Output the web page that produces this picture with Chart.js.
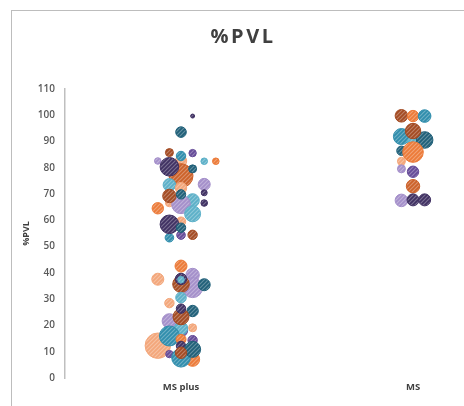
<!DOCTYPE html>
<html>
<head>
<meta charset="utf-8">
<title>%PVL</title>
<script src="https://cdn.jsdelivr.net/npm/chart.js@4"></script>
<style>
    html, body { margin: 0; background: #fff; overflow: hidden; width: 464px; height: 406px; }
    #frame { position: absolute; left: 11px; top: 10px; right: 0; bottom: 0; border-left: 1px solid #bdbdbd; border-top: 1px solid #bdbdbd; }
    #myChart { position: absolute; left: 0; top: 0; filter: blur(0.45px); }
</style>
</head>
<body>
<div id="frame"></div>
<canvas id="myChart" width="465" height="406"></canvas>
<script>
const tickLabels = { 1: 'MS plus', 2: 'MS' };

// x is the category number plus its sideways jitter, size is the bubble size
const xs = [
    1.05, 1.00, 0.95, 1.05, 0.90, 1.10, 1.15, 1.00, 1.00, 1.00,
    0.95, 1.05, 1.10, 1.10, 0.95, 1.00, 0.95, 1.05, 1.00, 0.95,
    1.00, 1.10, 0.90, 1.05, 1.00, 1.00, 1.05, 0.95, 0.95, 1.00,
    1.00, 0.90, 1.05, 1.05, 1.10, 1.00, 1.00, 1.00, 1.00, 0.95,
    1.05, 0.95, 1.00, 1.00, 1.00, 1.00, 1.05, 0.90, 0.95, 1.00,
    1.05, 0.95, 1.05, 1.00, 1.00, 1.05, 1.00,
    1.95, 2.00, 2.05, 1.95, 2.00, 2.05, 2.00, 1.95, 2.00, 1.95,
    1.95, 2.00, 2.00, 1.95, 2.00, 2.05
];
const ys = [
    99.7, 93.6, 85.8, 85.6, 82.6, 82.5, 82.5, 82.6, 84.5, 77.0,
    80.4, 79.6, 73.7, 70.5, 73.5, 72.3, 66.7, 67.6, 66.1, 69.3,
    69.9, 66.6, 64.6, 62.5, 59.5, 54.4, 54.5, 53.4, 58.5, 57.2,
    42.6, 37.6, 39.2, 34.4, 35.5, 35.7, 37.7, 37.4, 30.6, 28.5,
    25.5, 21.7, 18.2, 18.9, 23.3, 26.4, 19.1, 12.3, 16.0, 14.7,
    14.4, 9.1, 7.1, 7.7, 12.2, 10.9, 9.6,
    99.8, 99.7, 99.7, 91.9, 89.6, 90.6, 94.0, 86.5, 86.0, 82.5,
    79.6, 78.5, 73.0, 67.6, 67.8, 67.8
];
const sizes = [
    2, 5.3, 4, 3.7, 3.3, 3.3, 3.3, 5.7, 4.7, 12,
    9.3, 4, 6, 3, 6.3, 5.7, 4, 6.7, 9.3, 6.7,
    4.7, 3.3, 5.7, 8, 4.7, 4.3, 4.7, 4.3, 9.3, 4.7,
    6, 6, 6.7, 10, 6, 8.3, 5.7, 3.3, 5.3, 4.7,
    5.7, 7.3, 6.7, 6.7, 8, 4.7, 4, 12.7, 10, 5,
    4.7, 3.7, 7, 9.3, 4.7, 8, 5.7,
    6.3, 5.7, 6.3, 8, 6, 8.3, 7.7, 4.7, 10.3, 4,
    4, 5.7, 6.7, 6.3, 6, 6
];
const groups = [
    8, 5, 2, 6, 7, 4, 0, 1, 3, 9,
    8, 5, 7, 8, 4, 1, 1, 4, 7, 2,
    5, 8, 0, 4, 1, 6, 2, 3, 8, 5,
    0, 1, 7, 7, 5, 2, 8, 4, 4, 1,
    5, 7, 6, 4, 2, 8, 1, 1, 3, 0,
    6, 6, 0, 3, 8, 5, 2,
    2, 0, 3, 3, 4, 5, 2, 5, 0, 1,
    7, 6, 9, 7, 8, 8
];

// one colour per group, same order as the group numbers
const palette = ['#ec7a38', '#f3a67a', '#a34a22', '#2f8dac', '#5cb0c8', '#1f5f78', '#654b98', '#a48fca', '#3f3062', '#cc6129'];

function hatch(color) {
    const tile = document.createElement('canvas');
    tile.width = 4;
    tile.height = 4;
    const c = tile.getContext('2d');
    c.fillStyle = color;
    c.fillRect(0, 0, 4, 4);
    c.strokeStyle = 'rgba(255, 255, 255, 0.3)';
    c.lineWidth = 1.2;
    c.beginPath();
    c.moveTo(-1, 1);
    c.lineTo(1, -1);
    c.moveTo(-1, 5);
    c.lineTo(5, -1);
    c.moveTo(3, 5);
    c.lineTo(5, 3);
    c.stroke();
    return c.createPattern(tile, 'repeat');
}

chartGraph();

function chartGraph() {
    const ctx = document.getElementById('myChart').getContext('2d');
    const fills = palette.map(hatch);
    const chart = new Chart(ctx, {
        type: 'bubble',
        data: {
            datasets: [{
                label: '%PVL',
                data: xs.map((x, i) => ({ x: x, y: ys[i], r: sizes[i] })),
                backgroundColor: c => fills[groups[c.dataIndex]],
                borderColor: c => palette[groups[c.dataIndex]],
                borderWidth: 1
            }]
        },
        options: {
            responsive: false,
            animation: false,
            layout: { autoPadding: false, padding: { top: 0, right: 0, bottom: 0, left: 21 } },
            plugins: {
                legend: { display: false },
                tooltip: { enabled: false },
                title: {
                    display: true,
                    text: '%PVL',
                    color: '#404040',
                    font: { family: '"Open Sans"', size: 20, weight: 'bold' },
                    padding: { top: 25, bottom: 40 }
                }
            },
            scales: {
                x: {
                    type: 'linear',
                    min: 0.5,
                    max: 2.224,
                    afterBuildTicks: scale => {
                        scale.ticks = Object.keys(tickLabels).map(k => ({ value: Number(k) }));
                    },
                    afterFit: scale => { scale.height = 28; },
                    grid: { display: false, drawTicks: false },
                    border: { display: false },
                    ticks: {
                        autoSkip: false,
                        maxRotation: 0,
                        padding: 4,
                        color: '#404040',
                        font: { family: '"Open Sans"', size: 9.5, weight: 'bold' },
                        callback: value => tickLabels[value]
                    }
                },
                y: {
                    min: 0,
                    max: 110,
                    afterFit: scale => { scale.width = 44; },
                    title: {
                        display: true,
                        text: '%PVL',
                        color: '#404040',
                        padding: 0,
                        font: { family: '"Open Sans"', size: 9, weight: 'bold' }
                    },
                    grid: { display: false, drawTicks: false },
                    border: { display: true, color: '#bfbfbf', width: 1.5 },
                    ticks: {
                        stepSize: 10,
                        padding: 10,
                        color: '#595959',
                        font: { family: '"Open Sans"', size: 10, weight: '600' }
                    }
                }
            }
        }
    });

    // the title is letter spaced in the original
    const titleBox = chart.titleBlock;
    const drawTitle = titleBox.draw;
    titleBox.draw = function () {
        ctx.letterSpacing = '2.5px';
        drawTitle.call(titleBox);
        ctx.letterSpacing = '0px';
    };
    chart.draw();
}
</script>
</body>
</html>
